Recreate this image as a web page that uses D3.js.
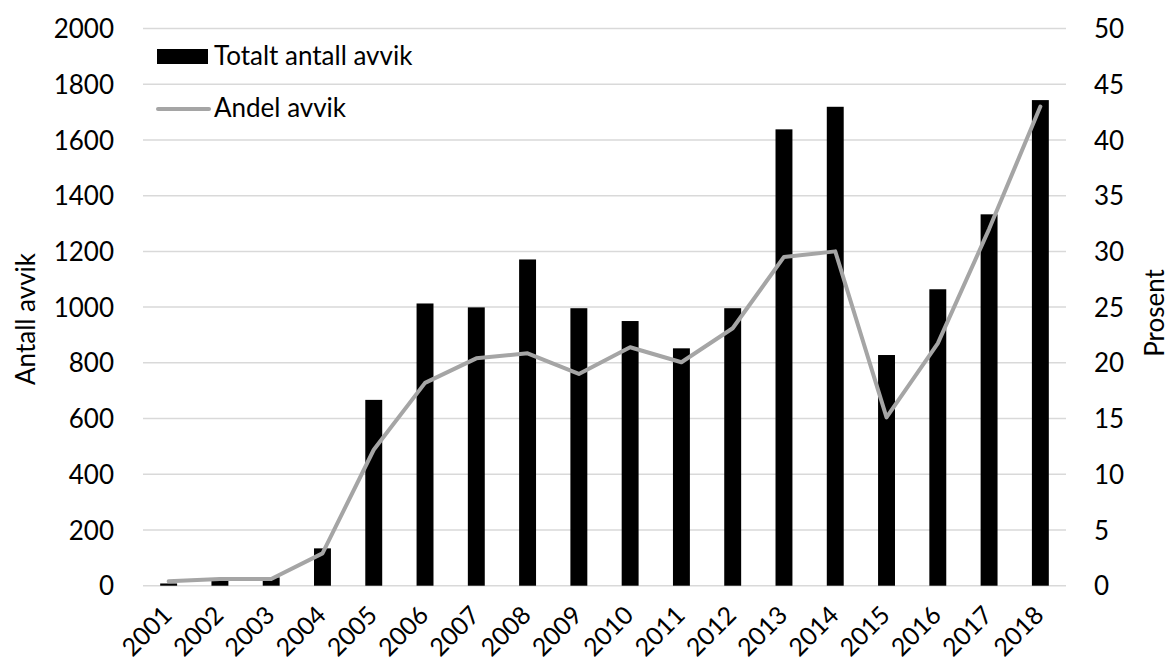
<!DOCTYPE html>
<html>
<head>
<meta charset="utf-8">
<script src="https://cdn.jsdelivr.net/npm/d3@7"></script>
<style>
  body { margin: 0; background: #fff; }
  svg text { font-family: Lato, "Open Sans", sans-serif; fill: #000; }
</style>
</head>
<body>
<svg id="canvas" width="1172" height="668"></svg>
<script>
// data
const years = ["2001","2002","2003","2004","2005","2006","2007","2008","2009",
               "2010","2011","2012","2013","2014","2015","2016","2017","2018"]
const antallAvvik = [8, 20, 30, 134, 667, 1013, 999, 1171, 996,
                     950, 852, 996, 1638, 1719, 828, 1064, 1333, 1743]
const andelAvvik = [0.4, 0.6, 0.6, 2.9, 12.2, 18.2, 20.4, 20.85, 19.0,
                    21.4, 20.05, 23.1, 29.5, 30.0, 15.1, 21.75, 32.0, 43.0]
const leftTicks = [0, 200, 400, 600, 800, 1000, 1200, 1400, 1600, 1800, 2000]
const rightTicks = [0, 5, 10, 15, 20, 25, 30, 35, 40, 45, 50]

const canvas = d3.select("#canvas")
const m = { left: 143, right: 1066, top: 28.5, bottom: 585.7 }
const fs = "26px"

const x = d3.scaleBand()
    .domain(years)
    .range([m.left, m.right])
    .paddingInner(0.67)
    .paddingOuter(0.335)

const yL = d3.scaleLinear().domain([0, 2000]).range([m.bottom, m.top])
const yR = d3.scaleLinear().domain([0, 50]).range([m.bottom, m.top])

// gridlines
canvas.append("g")
    .selectAll("line")
    .data(leftTicks)
    .enter().append("line")
    .attr("x1", m.left).attr("x2", m.right)
    .attr("y1", d => yL(d)).attr("y2", d => yL(d))
    .attr("stroke", "#d9d9d9")
    .attr("stroke-width", 1.5)

// left axis
const axL = canvas.append("g")
    .attr("transform", "translate(" + 114 + ",0)")
    .call(d3.axisLeft(yL).tickValues(leftTicks).tickFormat(d3.format("d")).tickSize(0).tickPadding(0))
axL.select(".domain").remove()
axL.selectAll("text").style("font-size", fs).attr("dy", "0.35em")
    .style("font-family", "Lato, sans-serif")

// right axis
const axR = canvas.append("g")
    .attr("transform", "translate(" + 1094 + ",0)")
    .call(d3.axisRight(yR).tickValues(rightTicks).tickSize(0).tickPadding(0))
axR.select(".domain").remove()
axR.selectAll("text").style("font-size", fs).attr("dy", "0.35em")
    .style("font-family", "Lato, sans-serif")

// x axis labels (rotated)
const axX = canvas.append("g")
    .attr("transform", "translate(0," + m.bottom + ")")
    .call(d3.axisBottom(x).tickSize(0).tickPadding(0))
axX.select(".domain").remove()
axX.selectAll("text")
    .style("font-size", "25px")
    .style("font-family", "Lato, sans-serif")
    .attr("text-anchor", "end")
    .attr("dy", "0")
    .attr("transform", "translate(5,31) rotate(-45)")

// bars
canvas.append("g")
    .selectAll("rect")
    .data(years)
    .enter().append("rect")
    .attr("x", d => x(d))
    .attr("width", x.bandwidth())
    .attr("y", (d, i) => yL(antallAvvik[i]))
    .attr("height", (d, i) => m.bottom - yL(antallAvvik[i]))
    .attr("fill", "#000")

// line
const line = d3.line()
    .x((d, i) => x(years[i]) + x.bandwidth() / 2)
    .y(d => yR(d))
canvas.append("path")
    .datum(andelAvvik)
    .attr("d", line)
    .attr("fill", "none")
    .attr("stroke", "#a5a5a5")
    .attr("stroke-width", 4)
    .attr("stroke-linejoin", "round")
    .attr("stroke-linecap", "round")

// axis titles
canvas.append("text")
    .attr("transform", "translate(" + 35 + "," + 319 + ") rotate(-90)")
    .attr("text-anchor", "middle")
    .style("font-size", fs)
    .text("Antall avvik")
canvas.append("text")
    .attr("transform", "translate(" + 1164 + "," + 313 + ") rotate(-90)")
    .attr("text-anchor", "middle")
    .style("font-size", fs)
    .text("Prosent")

// legend
const legend = canvas.append("g")
legend.append("rect")
    .attr("x", 157).attr("y", 49)
    .attr("width", 51).attr("height", 15)
    .attr("fill", "#000")
legend.append("text")
    .attr("x", 214).attr("y", 56).attr("dy", "0.35em")
    .style("font-size", fs)
    .text("Totalt antall avvik")
legend.append("line")
    .attr("x1", 158).attr("x2", 209)
    .attr("y1", 109).attr("y2", 109)
    .attr("stroke", "#a5a5a5")
    .attr("stroke-width", 4)
    .attr("stroke-linecap", "round")
legend.append("text")
    .attr("x", 214).attr("y", 108).attr("dy", "0.35em")
    .style("font-size", fs)
    .text("Andel avvik")
</script>
</body>
</html>
